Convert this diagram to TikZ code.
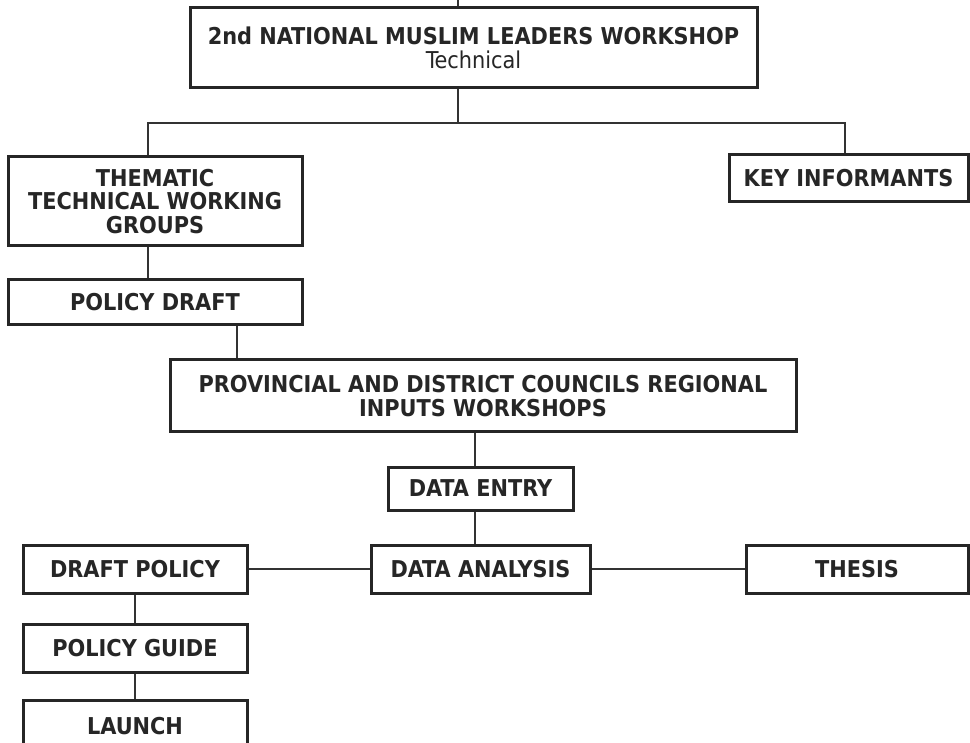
\documentclass[tikz,border=0pt]{standalone}
\usepackage{fontspec}
\setmainfont{DejaVu Sans Condensed}
\begin{document}
\begin{tikzpicture}[x=0.5pt,y=-0.5pt,
  every node/.style={inner sep=0pt},
  box/.style={draw=black!85, line width=1.5pt, fill=white, align=center,
    font=\fontsize{11.6}{11.8}\selectfont\bfseries, text=black!85},
  link/.style={draw=black!80, line width=1.2pt}]
\useasboundingbox (0,0) rectangle (970,743);
\fill[white] (0,0) rectangle (970,743);

% process boxes (centre, width, height in pixel units)
\node[box, minimum width=283.5pt, minimum height=40pt] (top) at (473.5,48)
  {2nd NATIONAL MUSLIM LEADERS WORKSHOP\\{\mdseries Technical}};
\node[box, minimum width=147pt, minimum height=44.5pt] (thematic) at (155,201.5)
  {THEMATIC\\TECHNICAL WORKING\\GROUPS};
\node[box, minimum width=119.5pt, minimum height=23.5pt] (key) at (848.5,178.5)
  {KEY INFORMANTS};
\node[box, minimum width=147pt, minimum height=22.5pt] (pdraft) at (155,302.5)
  {POLICY DRAFT};
\node[box, minimum width=313pt, minimum height=36pt] (prov) at (483,396)
  {PROVINCIAL AND DISTRICT COUNCILS REGIONAL\\INPUTS WORKSHOPS};
\node[box, minimum width=92.5pt, minimum height=21.5pt] (entry) at (480.5,488.5)
  {DATA ENTRY};
\node[box, minimum width=109.5pt, minimum height=24pt] (analysis) at (480.5,569)
  {DATA ANALYSIS};
\node[box, minimum width=112pt, minimum height=24pt] (dpolicy) at (135,569)
  {DRAFT POLICY};
\node[box, minimum width=111pt, minimum height=24pt] (thesis) at (857,569)
  {THESIS};
\node[box, minimum width=112pt, minimum height=24pt] (guide) at (135,648)
  {POLICY GUIDE};
\node[box, minimum width=112pt, minimum height=26pt] (launch) at (135,726)
  {LAUNCH};

% routing points
\coordinate (feed) at (458,0);
\coordinate (busm) at (458,123);
\coordinate (busl) at (148,123);
\coordinate (busr) at (845,123);
\coordinate (pdx) at (237,0);
\coordinate (cx) at (475,0);

% connectors
\draw[link] (feed) -- (top.north -| feed);
\draw[link] (top.south -| busm) -- (busm);
\draw[link] (thematic.north -| busl) -- (busl) -- (busr) -- (key.north -| busr);
\draw[link] (thematic.south -| busl) -- (pdraft.north -| busl);
\draw[link] (pdraft.south -| pdx) -- (prov.north -| pdx);
\draw[link] (prov.south -| cx) -- (entry.north -| cx);
\draw[link] (entry.south -| cx) -- (analysis.north -| cx);
\draw[link] (analysis.west) -- (dpolicy.east);
\draw[link] (analysis.east) -- (thesis.west);
\draw[link] (dpolicy.south) -- (guide.north);
\draw[link] (guide.south) -- (launch.north);
\end{tikzpicture}
\end{document}
